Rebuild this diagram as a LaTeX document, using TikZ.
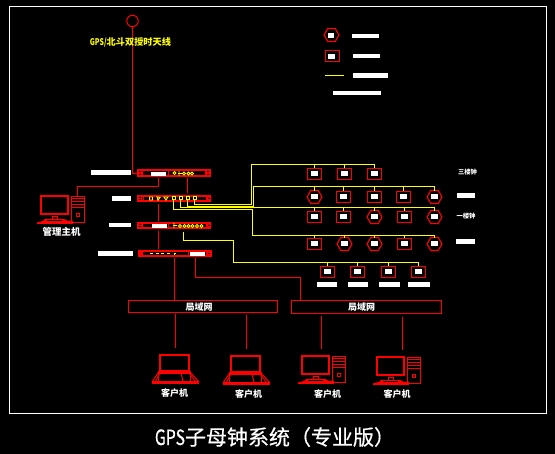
\documentclass[tikz,border=0pt]{standalone}
\usepackage{fontspec}
\newfontfamily\cjk{Noto Sans CJK SC}
\newfontfamily\cjkt[FakeBold=0.5]{Noto Sans CJK SC}
\setmainfont{Liberation Serif}
\usetikzlibrary{calc,shapes.geometric}
\definecolor{rd}{RGB}{255,0,0}
\definecolor{yl}{RGB}{255,255,0}
\tikzset{
  redl/.style={draw=rd,line width=1pt},
  yell/.style={draw=yl,line width=1pt},
  rackbox/.style={draw=rd,line width=2pt,minimum width=72pt,minimum height=5pt,inner sep=0pt,outer sep=0pt},
  clksq/.style={draw=rd,line width=1pt,minimum width=14pt,minimum height=11pt,inner sep=0pt,outer sep=0pt},
  clkhx/.style={draw=rd,line width=1.1pt,regular polygon,regular polygon sides=6,minimum size=15pt,inner sep=0pt,outer sep=0pt},
  wbar/.style={fill=white,inner sep=0pt,outer sep=0pt},
  lanbox/.style={draw=rd,line width=1pt,minimum width=150pt,minimum height=13pt,inner sep=0pt,outer sep=0pt},
  lbl/.style={text=white,inner sep=0pt,font=\cjk\bfseries\fontsize{9}{9}\selectfont},
}
\newcommand{\clk}[4]{%
  \node[#1] (#2) at (#3,#4) {};
  \node[wbar,minimum width=6.5pt,minimum height=5pt] (#2w) at (#3,#4) {};}
\newcommand{\wb}[5]{\node[wbar,minimum width=#4pt,minimum height=#5pt] (#1) at (#2,#3) {};}
\newcommand{\desk}[3]{%
  \begin{scope}[shift={(#2,#3)}]
    \node[draw=rd,line width=2pt,minimum width=27pt,minimum height=18pt,inner sep=0pt,outer sep=0pt] (#1m) at (14.5,10) {};
    \draw[redl] (12.5,21.5) rectangle (17.5,24.5);
    \fill[rd] (5,24) -- (24,24) -- (28,26) -- (33,26) -- (33,29) -- (-3,29) -- (-3,27.5) -- (3,26) -- cycle;
    \fill[black] (7,25.5) rectangle (22,26.5);
    \node[draw=rd,line width=1pt,minimum width=13pt,minimum height=26pt,inner sep=0pt,outer sep=0pt] (#1t) at (38,14.5) {};
    \draw[redl] (31.5,3.5) -- (44.5,3.5) (31.5,6.5) -- (44.5,6.5) (31.5,9.5) -- (44.5,9.5) (31.5,12.5) -- (44.5,12.5);
    \draw[redl] (36.5,18.5) rectangle (39.5,21.5);
  \end{scope}}
\newcommand{\lap}[3]{%
  \begin{scope}[shift={(#2,#3)}]
    \node[draw=rd,line width=2pt,minimum width=29pt,minimum height=16pt,inner sep=0pt,outer sep=0pt] (#1s) at (15.5,9) {};
    \fill[rd] (-1,17) rectangle (32,20);
    \fill[rd] (-7,27) rectangle (40,30);
    \draw[redl] (-1,19) -- (-7,28) (1,19) -- (-4,28) (32,19) -- (40,28) (30,19) -- (37,28);
    \draw[redl] (-0.5,19) -- (-0.5,27) (31.5,19) -- (31.5,27);
    \draw[redl] (22,19) -- (24,27);
  \end{scope}}
\begin{document}
\begin{tikzpicture}[x=1pt,y=-1pt]
\useasboundingbox (0,0) rectangle (555,454);
\fill[black] (0,0) rectangle (555,454);
\draw[white,line width=1pt] (9.5,6.5) rectangle (546.5,413.5);

% legend
\node[clkhx] (lg1) at (331.5,35) {};
\wb{lg1w}{331}{35.5}{6}{5}
\wb{lg1b}{365.5}{36}{27}{4}
\node[clksq] (lg2) at (332.5,56) {};
\wb{lg2w}{331.5}{56.5}{7}{5}
\wb{lg2b}{366.5}{56}{27}{4}
\coordinate (lg3a) at (325,75.5);
\coordinate (lg3b) at (344,75.5);
\draw[yell] (lg3a) -- (lg3b);
\wb{lg3c}{370.5}{75.5}{35}{5}
\wb{lg4}{357}{93}{48}{4}

% racks
\node[rackbox,minimum height=6pt] (r1) at (174,173) {};
\node[rackbox] (r2) at (174,198.5) {};
\node[rackbox] (r3) at (174,225.5) {};
\node[rackbox] (r4) at (175,253.5) {};
% rack 1 detail
\draw[redl] (142.5,169) -- (142.5,177) (205.5,169) -- (205.5,177) (168.5,169) -- (168.5,177);
\fill[rd] (138,170) rectangle (142,176) (206,170) rectangle (210,176);
\fill[black] (139,171) rectangle (141,172) (139,174) rectangle (141,175) (207,171) rectangle (209,172) (207,174) rectangle (209,175);
\wb{r1w}{158.5}{174}{15}{4}
\draw[yell,line width=0.9pt] (174.5,173) circle (1.5) (178,173.5) -- (182,173.5) (179,171) -- (179,176) (184,173.5) circle (1.6) (188.5,173.5) circle (1.6) (192,173.5) circle (1.5);
% rack 2 detail
\draw[redl] (143.5,195) -- (143.5,202) (206.5,195) -- (206.5,202);
\fill[rd] (138,196) rectangle (142,201) (207,196) rectangle (211,201);
\fill[black] (139,197) rectangle (141,198) (139,199) rectangle (141,200) (208,198) rectangle (210,199);
\draw[yell,line width=0.9pt] (149.5,197) rectangle (152.5,200) (157,197) -- (160,197.5) -- (158,200.3) -- cycle (164,197) -- (168,197) -- (166,200) -- cycle;
\foreach \nm/\px in {p1/173.5,p2/180.5,p3/187.5,p4/194.5}{
  \node[draw=yl,line width=1pt,minimum size=3pt,inner sep=0pt,outer sep=0pt] (\nm) at (\px,198.5) {};
}
% rack 3 detail
\draw[redl] (142.5,222) -- (142.5,229) (168.5,222) -- (168.5,229) (206.5,222) -- (206.5,229);
\fill[rd] (138,223) rectangle (142,228) (207,223) rectangle (211,228);
\fill[black] (139,224) rectangle (141,225) (139,226) rectangle (141,227) (208,225) rectangle (210,226);
\wb{r3w}{159}{226}{15}{4}
\draw[yell,line width=0.9pt] (173,225.5) -- (177,225.5) (174,223) -- (174,228) (180,226) circle (1.5) (184.5,226) circle (1.5) (188.5,226) circle (1.5) (192.5,226) circle (1.5) (197,226) circle (1.5) (201.5,226) circle (1.5);
% rack 4 detail
\draw[redl] (142.5,250) -- (142.5,257) (188.5,250) -- (188.5,257) (206.5,250) -- (206.5,257);
\fill[rd] (139,251) rectangle (142,256) (207,251) rectangle (211,256);
\fill[black] (208,253) rectangle (210,254);
\wb{r4w}{197.5}{254}{15}{4}
\draw[yell,line width=0.9pt] (150,253) -- (152,253) -- (152,254.5) (155.5,253) -- (158,253) -- (158,254.5) (161,253) -- (163.5,253) -- (163.5,254.5) (167,253) -- (169,253) -- (169,254.5) (174,255) -- (174,253) -- (176,253);
\wb{r1l}{111}{173}{40}{5}
\wb{r2l}{121}{198.5}{19}{5}
\wb{r3l}{120}{225}{22}{4.5}
\wb{r4l}{115.5}{253.5}{35}{4.5}

% antenna and rack connectors
\node[draw=rd,line width=1pt,circle,minimum size=11.5pt,inner sep=0pt,outer sep=0pt] (ant) at (132.5,21) {};
\draw[redl] (ant.south) |- ($(r1.west)+(0,.5)$);
\draw[redl,shorten <=2pt,shorten >=3pt] ($(r1.south)+(13.5,0)$) -- ($(r2.north)+(13.5,0)$);
\draw[redl,shorten <=3pt,shorten >=2pt] ($(r2.south)+(-15.5,0)$) -- ($(r3.north)+(-15.5,0)$);
\draw[redl,shorten <=3pt,shorten >=2pt] ($(r3.south)+(-15.5,0)$) -- ($(r4.north)+(-16.5,0)$);

% clocks
\clk{clksq}{a1}{314.5}{174}
\clk{clksq}{a2}{344.5}{174}
\clk{clksq}{a3}{374.5}{174}
\clk{clkhx}{b1}{314.5}{197}
\clk{clksq}{b2}{343.5}{197}
\clk{clksq}{b3}{374.5}{197}
\clk{clksq}{b4}{403.5}{197}
\clk{clkhx}{b5}{434.5}{197}
\clk{clksq}{c1}{314.5}{217}
\clk{clksq}{c2}{343.5}{217}
\clk{clkhx}{c3}{374.5}{217}
\clk{clksq}{c4}{404.5}{217}
\clk{clkhx}{c5}{434.5}{217}
\clk{clksq}{d1}{314.5}{244}
\clk{clkhx}{d2}{344.5}{244}
\clk{clkhx}{d3}{374.5}{244}
\clk{clksq}{d4}{404.5}{244}
\clk{clkhx}{d5}{434.5}{244}
\clk{clksq}{e1}{327.5}{272}
\clk{clksq}{e2}{357.5}{272}
\clk{clksq}{e3}{388.5}{272}
\clk{clksq}{e4}{418.5}{272}

% yellow buses
\draw[yell] (p4.south) |- (251.5,204.5) |- (a3.north |- 0,164.5);
\draw[yell] (p3.south) |- (253.5,206.5) |- (434.5,186.5);
\draw[yell] (p2.south) |- (434.5,207.5);
\draw[yell] (p1.south) |- (252.5,209.5) |- (434.5,235.5);
\coordinate (r3y) at (183.5,232);
\draw[yell] (r3y) |- (233.5,240.5) |- (418.5,262.5);
\foreach \cl/\ry in {a1/164.5,a2/164.5,a3/164.5,b1/186.5,b2/186.5,b3/186.5,b4/186.5,b5/186.5,c1/207.5,c2/207.5,c3/207.5,c4/207.5,c5/207.5,d1/235.5,d2/235.5,d3/235.5,d4/235.5,d5/235.5,e1/262.5,e2/262.5,e3/262.5,e4/262.5}{
  \draw[yell] (\cl.north |- 0,\ry) -- (\cl.north);
}
\wb{e1l}{327}{284.5}{20}{5}
\wb{e2l}{358}{284.5}{20}{5}
\wb{e3l}{389.5}{284.5}{21}{5}
\wb{e4l}{419}{284.5}{22}{5}
\wb{rb}{466}{195.5}{18}{5}
\wb{rd2}{465.5}{242}{19}{5}
\node[lbl,font=\cjk\bfseries\fontsize{6.3}{6.3}\selectfont] (rt1) at (467.5,172) {三楼钟};
\node[lbl,font=\cjk\bfseries\fontsize{6.3}{6.3}\selectfont] (rt2) at (466,216) {一楼钟};

% LANs
\node[lanbox,minimum width=149pt,minimum height=12pt] (lan1) at (203,306.5) {};
\node[lanbox] (lan2) at (366.5,307) {};
\node[lbl] (lan1t) at (199,307.5) {局域网};
\node[lbl] (lan2t) at (361.5,307.5) {局域网};
\draw[redl,shorten <=2pt] ($(r4.south)+(-0.5,0)$) -- (lan1.north -| 174.5,0);
\coordinate (r4b) at (195.5,258);
\draw[redl] (r4b) |- (300.5,277.5) -- (lan2.north -| 300.5,0);

% computers
\desk{h}{40}{195}
\desk{k3}{301}{355}
\desk{k4}{376}{356}
\lap{k1}{159}{354}
\lap{k2}{230}{355}
\coordinate (h1) at (77.5,186.5);
\coordinate (h2) at (158.5,186.5);
\draw[redl] (ht.north -| h1) -- (h1) -- (h2) -- ($(r1.south)+(-15.5,2)$);
\coordinate (l1) at (175.5,348);
\coordinate (l2) at (246.5,349);
\coordinate (l3) at (321.5,349);
\coordinate (l4) at (402.5,350);
\draw[redl,shorten <=2pt] (lan1.south -| l1) -- (l1);
\draw[redl,shorten <=3pt] (lan1.south -| l2) -- (l2);
\draw[redl,shorten <=3pt] (lan2.south -| l3) -- (l3);
\draw[redl,shorten <=4pt] (lan2.south -| l4) -- (l4);
\node[lbl] (k1l) at (174.5,393.5) {客户机};
\node[lbl] (k2l) at (248.5,394) {客户机};
\node[lbl] (k3l) at (327.5,394) {客户机};
\node[lbl] (k4l) at (397,394) {客户机};
\node[lbl,font=\cjk\bfseries\fontsize{9.5}{9.5}\selectfont] (hl) at (61.5,232) {管理主机};

% texts on top
\node[text=yl,inner sep=0pt,font=\cjk\bfseries\fontsize{9.2}{9.2}\selectfont] (antl) at (130.5,42) {\scalebox{0.75}[1]{GPS/}北斗双授时天线};
\node[text=white,inner sep=0pt,font=\cjkt\fontsize{21}{22}\selectfont] (title) at (275,437) {\scalebox{0.75}[1]{GPS}子母钟系统（专业版）};
\end{tikzpicture}
\end{document}
